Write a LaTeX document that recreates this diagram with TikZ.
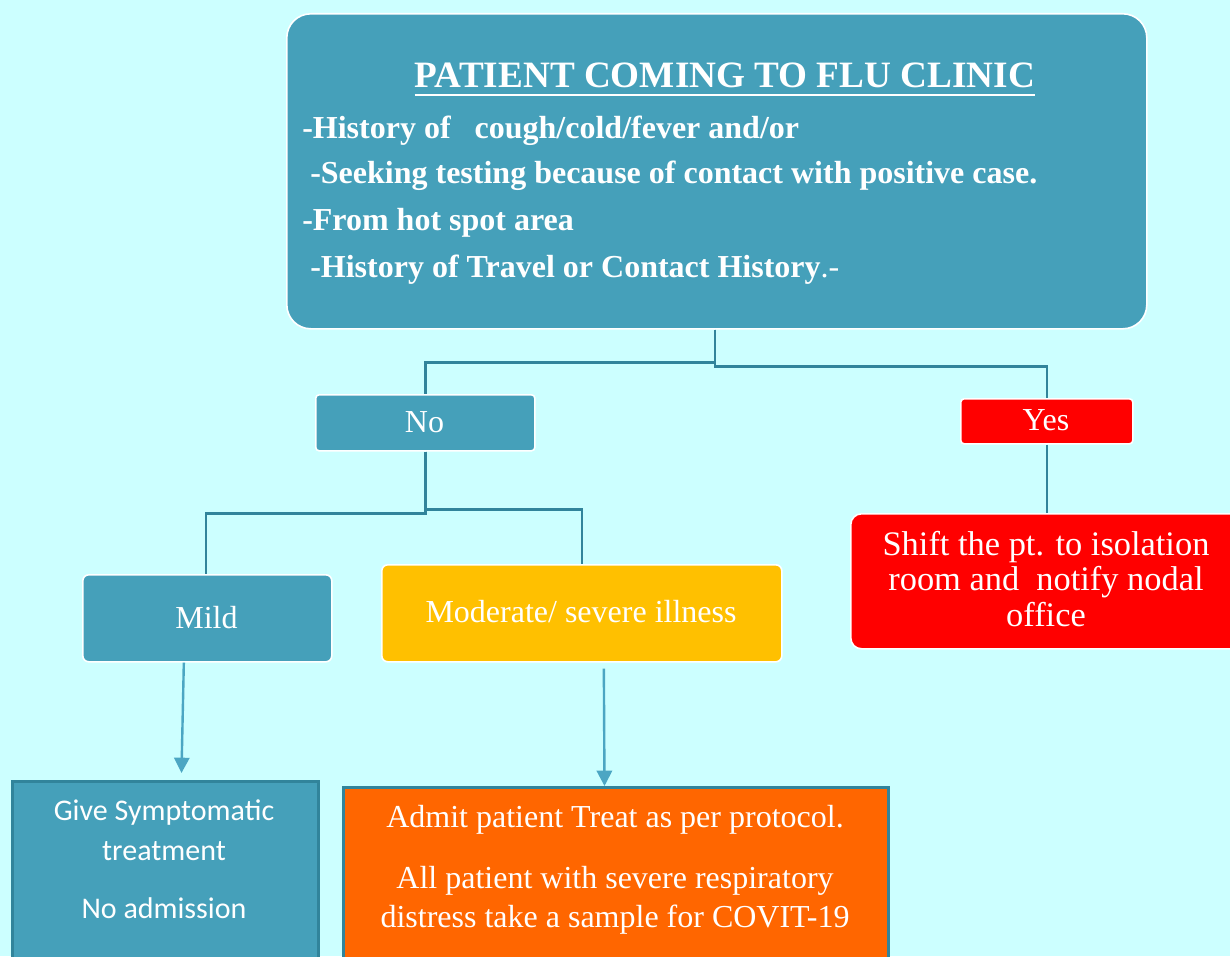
\documentclass[tikz,border=0pt]{standalone}
\usepackage{fontspec}
\setmainfont{Liberation Serif}
\newfontfamily\calibfont{Carlito}
\usetikzlibrary{arrows.meta,calc}
\definecolor{bgc}{HTML}{CCFFFF}
\definecolor{tealfill}{HTML}{45A0BA}
\definecolor{lineteal}{HTML}{31849B}
\definecolor{arrteal}{HTML}{4BA6C3}
\definecolor{goldfill}{HTML}{FFC000}
\definecolor{orngfill}{HTML}{FF6600}
\definecolor{redfill}{HTML}{FF0000}
\begin{document}
\begin{tikzpicture}[x=0.75pt,y=-0.75pt,
  sized/.style 2 args={minimum width=#1*0.75pt, minimum height=#2*0.75pt},
  boxbase/.style={draw=white, line width=1.2pt, inner sep=0pt, anchor=north west},
  tealbox/.style={boxbase, fill=tealfill},
  redbox/.style={boxbase, fill=redfill},
  goldbox/.style={boxbase, fill=goldfill},
  outbox/.style={draw=lineteal, line width=2.2pt, inner sep=0pt, anchor=north west},
  txt/.style={text=white, inner sep=0pt, anchor=base},
  txtl/.style={text=white, inner sep=0pt, anchor=base west, font=\fontsize{24pt}{28pt}\selectfont\bfseries},
  small/.style={font=\fontsize{24pt}{28pt}\selectfont},
  conn/.style={draw=lineteal, line width=1.8pt},
  arr/.style={draw=arrteal, line width=1.8pt, -{Triangle[length=11.5pt,width=11.5pt]}}
]
\path[use as bounding box, clip] (0,0) rectangle (1230,956);
\fill[bgc] (0,0) rectangle (1230,956);

% boxes
\node[tealbox, sized={860}{315}, rounded corners=18pt] (top) at (286,13) {};
\node[tealbox, sized={219}{56}, rounded corners=2.5pt] (no) at (315,394) {};
\node[redbox, sized={172}{45}, rounded corners=2.5pt] (yes) at (960,398) {};
\node[redbox, sized={400}{135}, rounded corners=8pt] (shift) at (850,513) {};
\node[tealbox, sized={249}{87}, rounded corners=4.5pt] (mild) at (82,574) {};
\node[goldbox, sized={400}{97}, rounded corners=4.5pt] (mod) at (381,564) {};
\node[outbox, fill=tealfill, sized={306}{200}] (give) at (11,780) {};
\node[outbox, fill=orngfill, sized={545}{200}] (admit) at (342,786) {};

% top text
\node[txt, font=\fontsize{27.9pt}{32pt}\selectfont\bfseries] (title) at (725,88) {PATIENT COMING TO FLU CLINIC};
\draw[white, line width=2pt] ($(title.base west)+(0,7)$) -- ($(title.base east)+(0,7)$);
\node[txtl] (l1) at (302,138) {-History of\ \ \ cough/cold/fever and/or};
\node[txtl] (l2) at (310,183) {-Seeking testing because of contact with positive case.};
\node[txtl] (l3) at (302,230) {-From hot spot area};
\node[txtl] (l4) at (310,277) {-History of Travel or Contact History\mdseries .-};

% small labels
\node[txt, small] (not) at (424.5,432) {No};
\node[txt, small] (yest) at (1046,430) {Yes};
\node[txt, small] (mildt) at (206.5,628) {Mild};
\node[txt, small] (modt) at (581,622) {Moderate/ severe illness};

% shift text
\node[txt, font=\fontsize{25.8pt}{26.6pt}\selectfont, align=center] (shiftt) at (1046,626) {Shift the pt. to isolation\\room and\ \ notify nodal\\office};

% give text
\node[txt, font=\calibfont\fontsize{22.5pt}{27pt}\selectfont] (g1) at (164,820) {Give Symptomatic};
\node[txt, font=\calibfont\fontsize{22.5pt}{27pt}\selectfont] (g2) at (164,860) {treatment};
\node[txt, font=\calibfont\fontsize{22.5pt}{27pt}\selectfont] (g3) at (164,918) {No admission};

% admit text
\node[txt, small] (a1) at (615,827) {Admit patient Treat as per protocol.};
\node[txt, small] (a2) at (615,888) {All patient with severe respiratory};
\node[txt, small] (a3) at (615,927) {distress take a sample for COVIT-19};

% connectors
\draw[conn] ([xshift=-1.5pt]top.south) -- ++(0,33) -| (no.north);
\draw[conn] ([xshift=-1.5pt]top.south) -- ++(0,37) -| (yes.north);
\draw[conn] (yes.south) -- (yes.south |- shift.north);
\draw[conn] (no.south) -- ++(0,62) -| ([xshift=-1.1pt]mild.north);
\draw[conn] (no.south) -- ++(0,58) -| (mod.north);
\draw[arr] ([xshift=-17.6pt]mild.south) -- ([xshift=12pt, yshift=5.25pt]give.north);
\draw[arr, shorten <=4.5pt] ([xshift=16.5pt]mod.south) -- ([xshift=-8.6pt]admit.north);
\end{tikzpicture}
\end{document}
